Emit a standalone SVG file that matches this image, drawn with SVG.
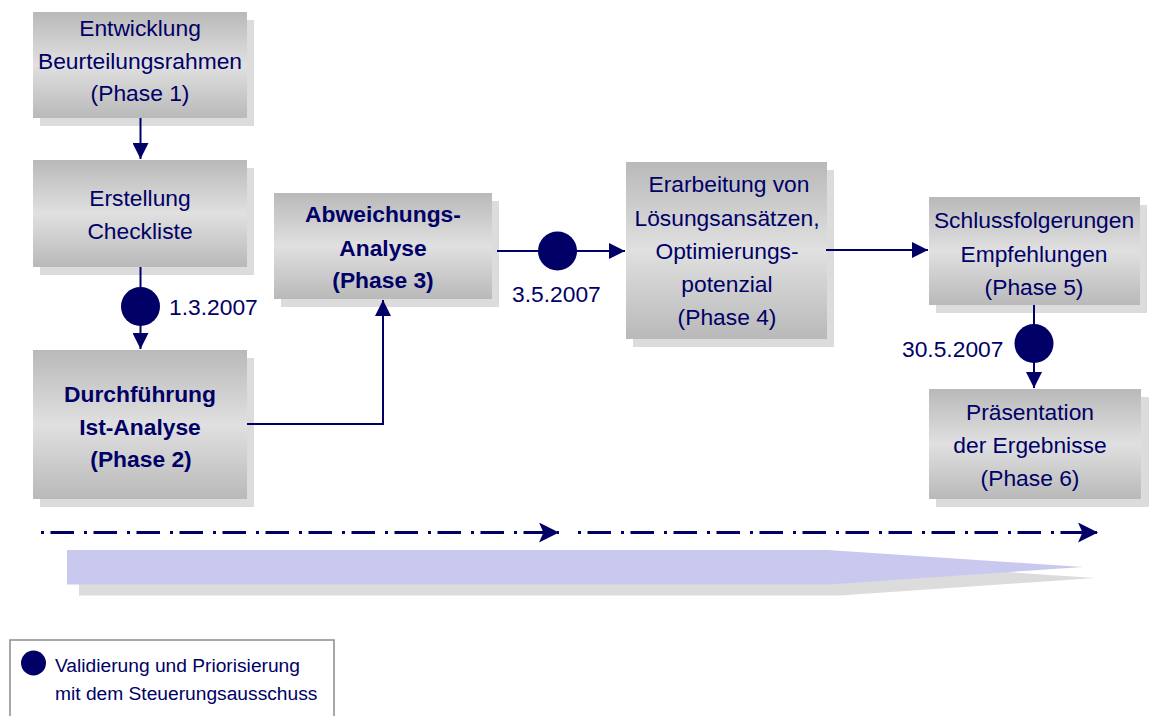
<svg xmlns="http://www.w3.org/2000/svg" width="1149" height="716" viewBox="0 0 1149 716">
<defs>
<linearGradient id="boxGrad" x1="0" y1="0" x2="0" y2="1">
<stop offset="0" stop-color="#b9b9b9"/>
<stop offset="0.5" stop-color="#e0e0e0"/>
<stop offset="1" stop-color="#b9b9b9"/>
</linearGradient>
<marker id="tri" markerUnits="userSpaceOnUse" markerWidth="16" markerHeight="16" viewBox="0 0 15 15" refX="15" refY="7.5" orient="auto">
<path d="M0,0 L15,7.5 L0,15 Z" fill="#000066"/>
</marker>
<marker id="stealth" markerUnits="userSpaceOnUse" markerWidth="20" markerHeight="20" viewBox="0 0 18 18" refX="18" refY="9" orient="auto">
<path d="M0,0 L18,9 L0,18 L4,9 Z" fill="#000066"/>
</marker>
</defs>
<style>
.shadow{fill:#dcdcdc}
.box{fill:url(#boxGrad)}
.t{font-family:"Liberation Sans",Arial,sans-serif;font-size:22.8px;fill:#000066;text-anchor:middle}
.b{font-weight:bold}
.date{font-family:"Liberation Sans",Arial,sans-serif;font-size:22.8px;fill:#000066}
.conn{fill:none;stroke:#000066;stroke-width:2}
.dot{fill:#000066}
.time{fill:none;stroke:#000066;stroke-width:3;stroke-dasharray:3 6.5 23.5 10}
.leg{font-family:"Liberation Sans",Arial,sans-serif;font-size:19.2px;fill:#000066}
</style>
<rect width="1149" height="716" fill="#ffffff"/>

<g id="band">
<polygon points="79,561 840,561 1095,578 840,595.5 79,595.5" fill="#dcdcdc"/>
<polygon points="67,550 828,550 1083,567 828,584.5 67,584.5" fill="#c9c9ef"/>
</g>

<g id="timeline">
<path class="time" d="M41,532.5 H559" marker-end="url(#stealth)"/>
<path class="time" d="M578,532.5 H1098" marker-end="url(#stealth)"/>
</g>

<g id="phase1">
<rect class="shadow" x="40" y="20" width="214" height="106"/>
<rect class="box" x="33" y="12" width="214" height="106"/>
<text class="t" x="140" y="36">Entwicklung</text>
<text class="t" x="140" y="69">Beurteilungsrahmen</text>
<text class="t" x="140" y="101">(Phase 1)</text>
</g>

<g id="checkliste">
<rect class="shadow" x="40" y="168" width="214" height="107"/>
<rect class="box" x="33" y="160" width="214" height="107"/>
<text class="t" x="140" y="206">Erstellung</text>
<text class="t" x="140" y="239">Checkliste</text>
</g>

<g id="phase2">
<rect class="shadow" x="40" y="358" width="214" height="149"/>
<rect class="box" x="33" y="350" width="214" height="149"/>
<text class="t b" x="140" y="402">Durchführung</text>
<text class="t b" x="140" y="435">Ist-Analyse</text>
<text class="t b" x="141" y="467">(Phase 2)</text>
</g>

<g id="phase3">
<rect class="shadow" x="281" y="201" width="218" height="106"/>
<rect class="box" x="274" y="193" width="218" height="106"/>
<text class="t b" x="383" y="222">Abweichungs-</text>
<text class="t b" x="383" y="256">Analyse</text>
<text class="t b" x="383" y="288">(Phase 3)</text>
</g>

<g id="phase4">
<rect class="shadow" x="633" y="170" width="201" height="177"/>
<rect class="box" x="626" y="162" width="201" height="177"/>
<text class="t" x="729" y="192">Erarbeitung von</text>
<text class="t" x="727" y="226">Lösungsansätzen,</text>
<text class="t" x="727" y="259">Optimierungs-</text>
<text class="t" x="727" y="292">potenzial</text>
<text class="t" x="727" y="325">(Phase 4)</text>
</g>

<g id="phase5">
<rect class="shadow" x="936" y="205" width="211" height="108"/>
<rect class="box" x="929" y="197" width="211" height="108"/>
<text class="t" x="1034" y="228">Schlussfolgerungen</text>
<text class="t" x="1034" y="262">Empfehlungen</text>
<text class="t" x="1034" y="295">(Phase 5)</text>
</g>

<g id="phase6">
<rect class="shadow" x="936" y="397" width="213" height="110"/>
<rect class="box" x="929" y="389" width="212" height="110"/>
<text class="t" x="1030" y="420">Präsentation</text>
<text class="t" x="1030" y="453">der Ergebnisse</text>
<text class="t" x="1030" y="486">(Phase 6)</text>
</g>

<g id="connectors">
<path class="conn" d="M140.5,118 V159" marker-end="url(#tri)"/>
<path class="conn" d="M140.5,267 V349" marker-end="url(#tri)"/>
<circle class="dot" cx="140.5" cy="306.5" r="19.5"/>
<path class="conn" d="M247,424 H383 V300" marker-end="url(#tri)"/>
<path class="conn" d="M497,251 H625" marker-end="url(#tri)"/>
<circle class="dot" cx="557.5" cy="251" r="19.5"/>
<path class="conn" d="M826,250 H928" marker-end="url(#tri)"/>
<path class="conn" d="M1034,305 V388" marker-end="url(#tri)"/>
<circle class="dot" cx="1034" cy="343.5" r="19.5"/>
</g>

<g id="dates">
<text class="date" x="169" y="315">1.3.2007</text>
<text class="date" x="512" y="302">3.5.2007</text>
<text class="date" x="902" y="357">30.5.2007</text>
</g>

<g id="legend">
<rect x="10" y="640" width="324" height="90" fill="#ffffff" stroke="#8a8a8a" stroke-width="1.5"/>
<circle class="dot" cx="33.5" cy="663" r="12.5"/>
<text class="leg" x="55" y="672">Validierung und Priorisierung</text>
<text class="leg" x="55" y="700">mit dem Steuerungsausschuss</text>
</g>
</svg>
